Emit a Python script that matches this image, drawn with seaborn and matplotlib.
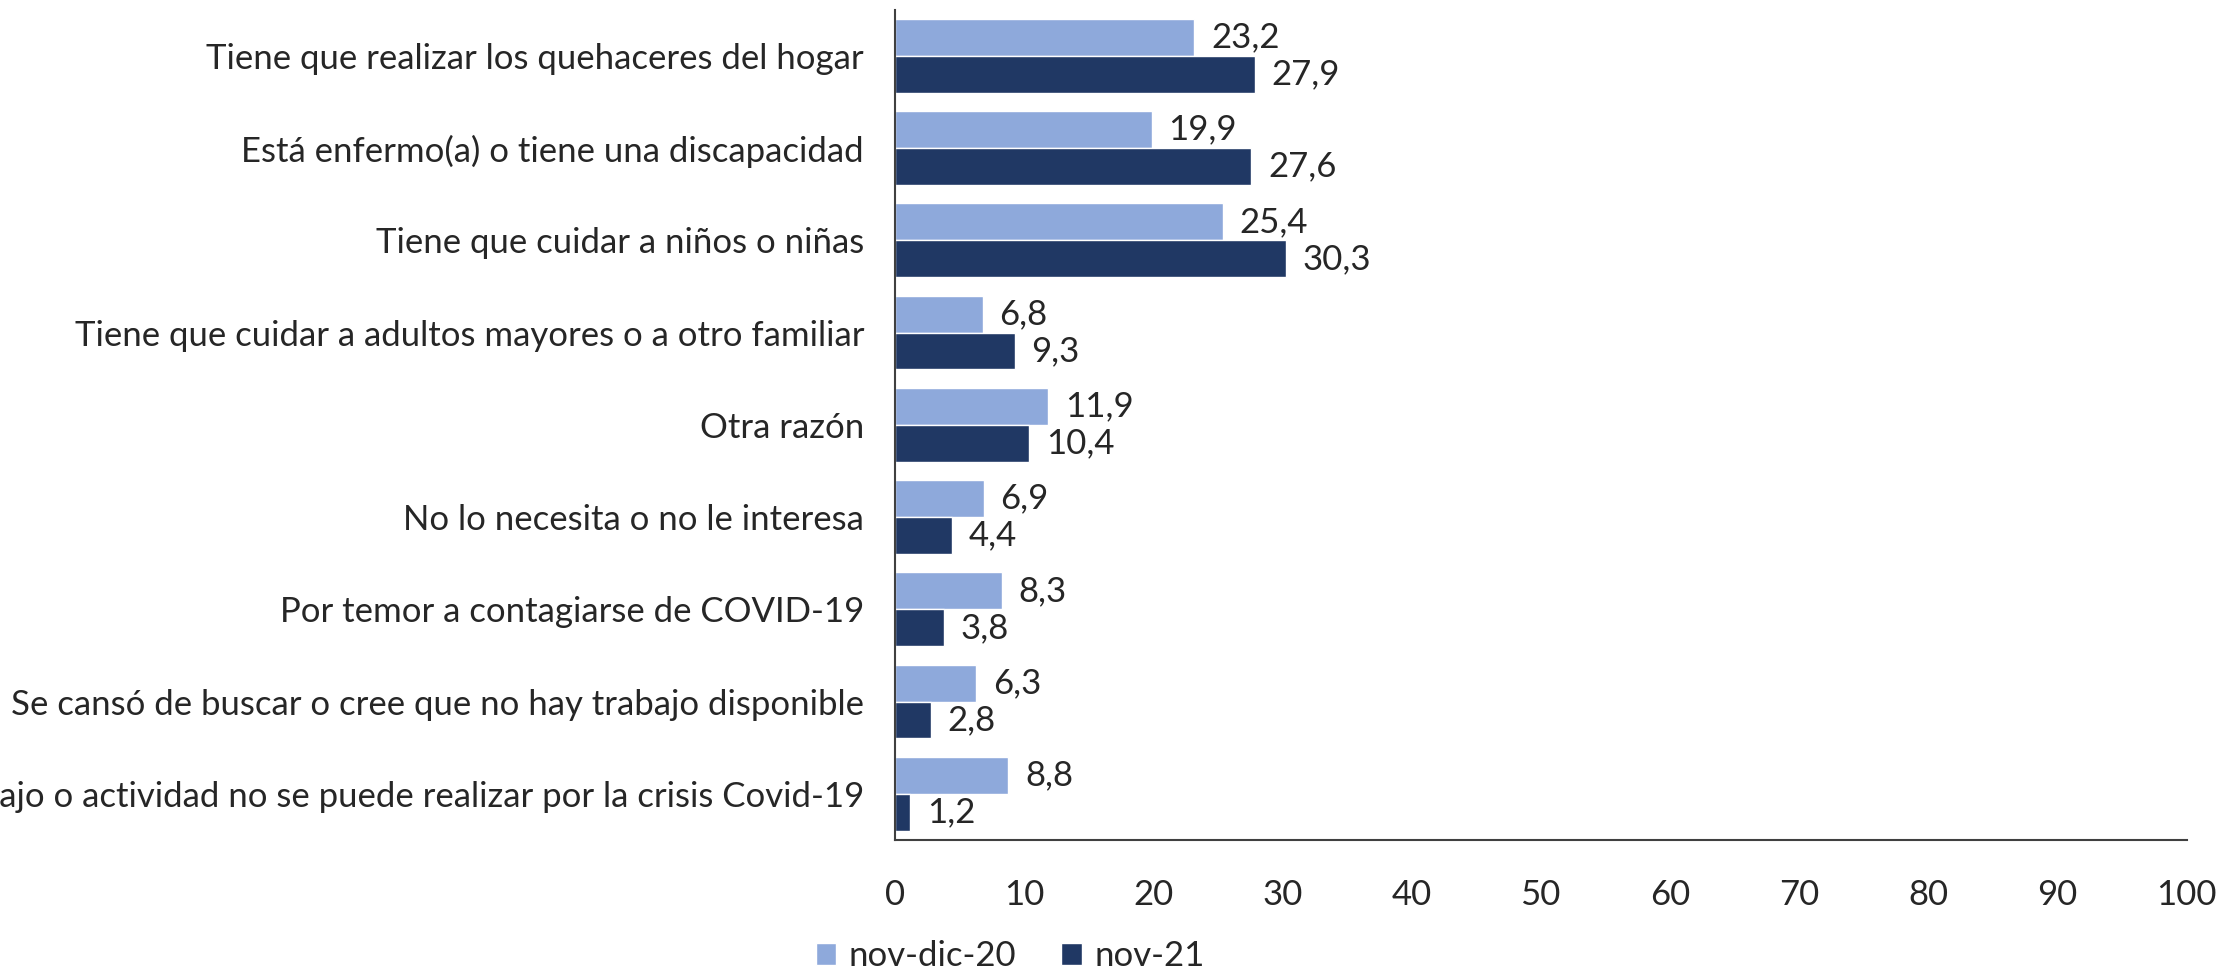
import matplotlib
matplotlib.use("Agg")
import matplotlib.pyplot as plt
import seaborn as sns
import pandas as pd

categories = [
    "Tiene que realizar los quehaceres del hogar",
    "Está enfermo(a) o tiene una discapacidad",
    "Tiene que cuidar a niños o niñas",
    "Tiene que cuidar a adultos mayores o a otro familiar",
    "Otra razón",
    "No lo necesita o no le interesa",
    "Por temor a contagiarse de COVID-19",
    "Se cansó de buscar o cree que no hay trabajo disponible",
    "Su trabajo o actividad no se puede realizar por la crisis Covid-19",
]
series_names = ["nov-dic-20", "nov-21"]
values_2020 = [23.2, 19.9, 25.4, 6.8, 11.9, 6.9, 8.3, 6.3, 8.8]
values_2021 = [27.9, 27.6, 30.3, 9.3, 10.4, 4.4, 3.8, 2.8, 1.2]
x_ticks = [0, 10, 20, 30, 40, 50, 60, 70, 80, 90, 100]

colors = ["#8EA9DB", "#203864"]

df = pd.DataFrame({
    "categoria": categories * 2,
    "periodo": [series_names[0]] * len(categories) + [series_names[1]] * len(categories),
    "valor": values_2020 + values_2021,
})

sns.set_style("white")
plt.rcParams["font.family"] = ["Lato", "DejaVu Sans"]
FS = 25

fig = plt.figure(figsize=(22.2, 9.71), dpi=100)
ax = fig.add_axes([0.403, 0.135, 0.582, 0.855])

sns.barplot(
    data=df, y="categoria", x="valor", hue="periodo",
    order=categories, hue_order=series_names,
    palette=colors, saturation=1, orient="h", width=0.8, ax=ax,
    edgecolor="white", linewidth=1.0, legend=True,
)

for container in ax.containers:
    ax.bar_label(
        container,
        labels=[f"{v:.1f}".replace(".", ",") for v in container.datavalues],
        padding=12, fontsize=FS,
    )

ax.set_xlim(0, 100)
ax.set_ylim(len(categories) - 0.5, -0.5)
ax.set_xticks(x_ticks)
ax.set_xlabel("")
ax.set_ylabel("")
ax.tick_params(axis="x", length=0, pad=28, labelsize=FS)
ax.tick_params(axis="y", length=0, pad=22, labelsize=FS)
for s in ["top", "right"]:
    ax.spines[s].set_visible(False)
for s in ["left", "bottom"]:
    ax.spines[s].set_color("#404040")
    ax.spines[s].set_linewidth(1.5)

handles, labels = ax.get_legend_handles_labels()
ax.legend_.remove()
fig.legend(
    handles, labels, loc="center", bbox_to_anchor=(0.455, 0.015),
    ncol=2, frameon=False, fontsize=FS, handlelength=0.6, handleheight=0.6,
    columnspacing=1.3, handletextpad=0.35,
)

fig.savefig("out.png", dpi=100)
